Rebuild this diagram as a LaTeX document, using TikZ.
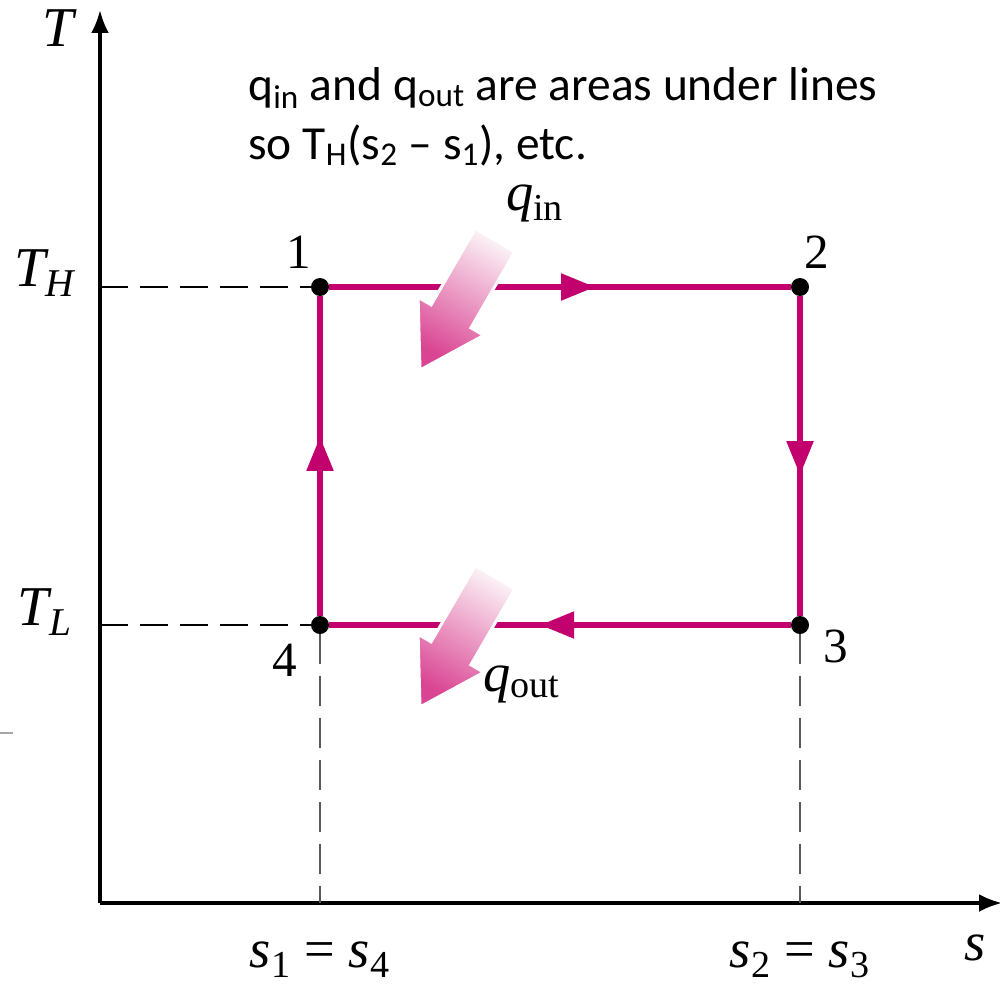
\documentclass[tikz,border=0pt]{standalone}
\usepackage{fontspec}
\setmainfont{Carlito}
\newfontfamily\timesfont{Liberation Serif}
\usepackage{tikz}
\usetikzlibrary{arrows.meta,decorations.markings}
\definecolor{cyclepink}{HTML}{C2006E}
\definecolor{heatpink}{HTML}{DA4593}
\definecolor{heatlight}{HTML}{FBEEF4}
\newcommand{\sym}[1]{{\itshape #1}}

\begin{document}
\begin{tikzpicture}[x=0.02cm,y=-0.02cm,
    >={Latex[length=0.46cm,width=0.36cm]},
    font=\timesfont\fontsize{31}{36}\selectfont,
    axis/.style={line width=2pt},
    guide/.style={dash pattern=on 0.56cm off 0.24cm,line width=1.4pt},
    drop/.style={black!65,dash pattern=on 0.6cm off 0.24cm,line width=1pt},
    state/.style={circle,fill=black,minimum size=0.36cm,inner sep=0pt},
    process/.style={cyclepink,line width=3pt,postaction={decorate},
      decoration={markings,mark=at position #1 with
        {\arrow{Triangle[length=0.68cm,width=0.52cm]}}}},
    heat/.style={draw=white,line width=1.7pt,top color=heatlight,
      bottom color=heatpink,shading angle=-30},
    biglabel/.style={font=\timesfont\fontsize{32}{36}\selectfont},
    numlabel/.style={font=\timesfont\fontsize{28}{32}\selectfont}]

    \useasboundingbox (0,0) rectangle (1000,987);

    \coordinate (origin) at (100,903);
    \coordinate (Ttip) at (100,10);
    \coordinate (stip) at (1002,903);
    \coordinate (hot) at (100,287);
    \coordinate (cold) at (100,625);
    \coordinate (sa) at (320,903);
    \coordinate (sb) at (800,903);

    \draw[axis,->] (origin) -- (Ttip);
    \draw[axis,->] (origin) -- (stip);
    \draw[gray!70,line width=1pt] (0,733) -- (13,733);

    \node[biglabel] (Tlab) at (58,28) {\sym{T}};
    \node[biglabel] (THlab) at (45,273) {\sym{T}\textsubscript{\sym{H}}};
    \node[biglabel] (TLlab) at (45,612) {\sym{T}\textsubscript{\sym{L}}};
    \node (slab) at (975,948) {\sym{s}};
    \node (s14) at (320,960) {\sym{s}\textsubscript{1} = \sym{s}\textsubscript{4}};
    \node (s23) at (800,960) {\sym{s}\textsubscript{2} = \sym{s}\textsubscript{3}};

    \node[state] (p1) at (320,287) {};
    \node[state] (p2) at (800,287) {};
    \node[state] (p3) at (800,625) {};
    \node[state] (p4) at (320,625) {};
    \node[numlabel] at (299,252) {1};
    \node[numlabel] at (817,252) {2};
    \node[numlabel] at (836,646) {3};
    \node[numlabel] at (285,660) {4};

    \draw[guide] (hot) -- (p1);
    \draw[guide] (cold) -- (p4);
    \draw[drop] (p4) -- (sa);
    \draw[drop] (p3) -- (sb);

    \draw[process=0.576] (p1) -- (p2);
    \draw[process=0.56] (p2) -- (p3);
    \draw[process=0.543] (p3) -- (p4);
    \draw[process=0.56] (p4) -- (p1);

    \foreach \dy in {0,337}
      \path[heat,shift={(0,\dy)}] (475.2,228.7) -- (431.1,304.8) -- (418.1,297.3)
        -- (420,370) -- (483.9,335.3) -- (470.9,327.8) -- (515.0,251.7) -- cycle;
    \node (qin) at (535,203) {\sym{q}\textsubscript{in}};
    \node (qout) at (522,684) {\sym{q}\textsubscript{out}};

    \node[font=\normalfont\fontsize{27}{33.6}\selectfont,align=left,
      anchor=north west,inner sep=0pt] (note) at (248,67)
      {q\textsubscript{in} and q\textsubscript{out} are areas under lines\\
       so T\textsubscript{H}(s\textsubscript{2} -- s\textsubscript{1}), etc.};
  \end{tikzpicture}
\end{document}
